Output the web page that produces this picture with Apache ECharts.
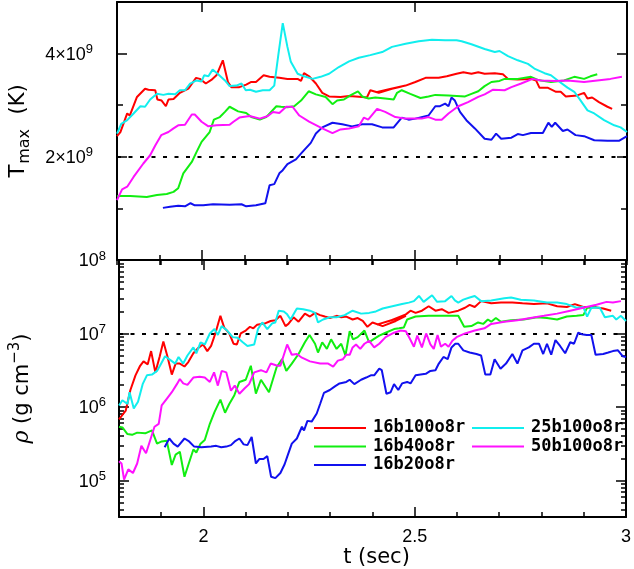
<!DOCTYPE html>
<html>
<head>
<meta charset="utf-8">
<script src="https://cdn.jsdelivr.net/npm/echarts@6/dist/echarts.min.js"></script>
<style>
html,body{margin:0;padding:0;background:#fff;}
#chart{width:634px;height:569px;}
</style>
</head>
<body>
<div id="chart"></div>
<script>
// ---------- DATA ----------
// Top panel: T_max in units of 1e9 K, pairs [t (sec), T]
const T_16b100o8r = [[1.800,2.40],[1.808,2.48],[1.824,2.84],[1.830,2.80],[1.847,3.16],[1.866,3.32],[1.874,3.30],[1.890,3.29],[1.895,3.11],[1.905,3.09],[1.915,2.98],[1.921,3.11],[1.933,3.12],[1.948,3.24],[1.968,3.32],[1.986,3.53],[1.995,3.51],[2.009,3.42],[2.022,3.49],[2.034,3.58],[2.049,3.87],[2.061,3.45],[2.069,3.35],[2.088,3.35],[2.104,3.40],[2.116,3.45],[2.127,3.45],[2.145,3.58],[2.159,3.55],[2.182,3.53],[2.201,3.51],[2.225,3.51],[2.233,3.47],[2.240,3.62],[2.252,3.56],[2.268,3.42],[2.283,3.24],[2.299,3.17],[2.326,3.16],[2.346,3.18],[2.377,3.16],[2.388,3.15],[2.396,3.29],[2.416,3.24],[2.447,3.32],[2.470,3.36],[2.410,3.25],[2.440,3.31],[2.479,3.38],[2.502,3.45],[2.526,3.53],[2.557,3.53],[2.576,3.56],[2.599,3.61],[2.615,3.64],[2.634,3.61],[2.650,3.64],[2.665,3.61],[2.689,3.62],[2.708,3.60],[2.720,3.51],[2.743,3.50],[2.774,3.51],[2.786,3.48],[2.794,3.34],[2.813,3.34],[2.833,3.26],[2.844,3.26],[2.856,3.17],[2.883,3.19],[2.899,3.24],[2.907,3.13],[2.918,3.15],[2.934,3.06],[2.954,2.97],[2.965,2.93]];
const T_16b40o8r = [[1.800,1.24],[1.831,1.24],[1.870,1.22],[1.894,1.26],[1.917,1.28],[1.933,1.32],[1.944,1.39],[1.956,1.68],[1.976,1.90],[1.987,2.09],[1.999,2.29],[2.018,2.48],[2.028,2.72],[2.042,2.77],[2.054,2.87],[2.065,2.97],[2.085,2.88],[2.104,2.85],[2.116,2.77],[2.136,2.72],[2.151,2.77],[2.175,2.98],[2.186,2.97],[2.201,2.96],[2.217,2.98],[2.233,3.09],[2.251,3.27],[2.268,3.21],[2.291,3.16],[2.307,3.02],[2.318,3.09],[2.334,3.11],[2.349,3.19],[2.367,3.27],[2.377,3.17],[2.392,3.13],[2.408,3.15],[2.431,3.13],[2.451,3.11],[2.459,3.24],[2.470,3.29],[2.490,3.22],[2.514,3.14],[2.533,3.17],[2.549,3.20],[2.580,3.19],[2.619,3.17],[2.634,3.22],[2.650,3.27],[2.665,3.37],[2.681,3.45],[2.700,3.47],[2.712,3.51],[2.743,3.51],[2.774,3.55],[2.790,3.49],[2.821,3.45],[2.852,3.48],[2.876,3.55],[2.899,3.51],[2.914,3.56],[2.930,3.60]];
const T_16b20o8r = [[1.908,1.01],[1.925,1.03],[1.944,1.05],[1.960,1.04],[1.973,1.10],[1.983,1.06],[2.003,1.06],[2.026,1.08],[2.065,1.07],[2.093,1.08],[2.104,1.04],[2.127,1.06],[2.149,1.10],[2.159,1.45],[2.170,1.47],[2.182,1.68],[2.190,1.74],[2.201,1.86],[2.221,1.95],[2.236,2.09],[2.256,2.27],[2.268,2.45],[2.283,2.57],[2.307,2.66],[2.330,2.63],[2.353,2.59],[2.377,2.63],[2.400,2.63],[2.424,2.57],[2.451,2.57],[2.470,2.76],[2.486,2.72],[2.502,2.74],[2.533,2.80],[2.549,2.98],[2.560,2.98],[2.572,3.03],[2.580,2.98],[2.587,3.15],[2.595,3.09],[2.607,2.87],[2.622,2.71],[2.642,2.55],[2.665,2.35],[2.681,2.33],[2.692,2.45],[2.704,2.35],[2.728,2.37],[2.743,2.44],[2.755,2.42],[2.774,2.46],[2.802,2.46],[2.815,2.66],[2.823,2.58],[2.831,2.66],[2.849,2.50],[2.860,2.53],[2.879,2.42],[2.899,2.40],[2.923,2.32],[2.954,2.31],[2.981,2.31],[3.000,2.40]];
const T_25b100o8r = [[1.800,2.45],[1.810,2.64],[1.824,2.71],[1.839,2.84],[1.855,2.98],[1.866,2.97],[1.878,3.11],[1.894,3.22],[1.909,3.20],[1.921,3.22],[1.937,3.21],[1.948,3.29],[1.960,3.29],[1.972,3.42],[1.987,3.48],[1.999,3.46],[2.005,3.58],[2.015,3.56],[2.025,3.69],[2.038,3.60],[2.054,3.48],[2.065,3.37],[2.081,3.38],[2.093,3.42],[2.103,3.29],[2.113,3.30],[2.127,3.26],[2.143,3.29],[2.159,3.29],[2.170,3.38],[2.180,4.00],[2.190,4.59],[2.201,4.13],[2.209,3.84],[2.225,3.61],[2.240,3.56],[2.260,3.51],[2.279,3.55],[2.299,3.61],[2.322,3.74],[2.346,3.85],[2.369,3.92],[2.396,3.97],[2.424,4.03],[2.447,4.13],[2.479,4.19],[2.510,4.24],[2.541,4.27],[2.572,4.26],[2.599,4.26],[2.611,4.24],[2.634,4.18],[2.665,4.09],[2.689,4.03],[2.700,4.05],[2.720,3.95],[2.743,3.87],[2.767,3.80],[2.782,3.71],[2.806,3.62],[2.821,3.58],[2.837,3.48],[2.860,3.34],[2.876,3.26],[2.891,3.09],[2.907,2.90],[2.923,2.84],[2.946,2.71],[2.970,2.61],[2.985,2.57],[3.000,2.48]];
const T_50b100o8r = [[1.800,1.16],[1.812,1.37],[1.824,1.42],[1.839,1.61],[1.862,1.87],[1.878,2.03],[1.890,2.22],[1.904,2.42],[1.921,2.48],[1.933,2.55],[1.944,2.61],[1.960,2.62],[1.976,2.82],[1.983,2.82],[1.999,2.68],[2.015,2.59],[2.034,2.61],[2.065,2.62],[2.074,2.68],[2.088,2.76],[2.112,2.79],[2.136,2.74],[2.155,2.79],[2.167,2.87],[2.182,2.85],[2.198,2.97],[2.213,2.97],[2.229,2.80],[2.252,2.68],[2.283,2.55],[2.307,2.46],[2.326,2.53],[2.346,2.55],[2.369,2.59],[2.381,2.76],[2.391,2.72],[2.412,2.93],[2.431,2.87],[2.455,2.77],[2.479,2.74],[2.498,2.74],[2.517,2.74],[2.533,2.77],[2.549,2.72],[2.564,2.72],[2.580,2.84],[2.603,2.98],[2.626,3.06],[2.650,3.16],[2.665,3.21],[2.685,3.30],[2.712,3.29],[2.728,3.35],[2.751,3.42],[2.778,3.51],[2.798,3.48],[2.829,3.47],[2.860,3.48],[2.899,3.45],[2.930,3.48],[2.961,3.51],[2.988,3.55]];

// Bottom panel: log10(rho / g cm^-3), pairs [t (sec), log10 rho]
const logRho_16b100o8r = [[1.800,5.83],[1.808,5.89],[1.816,5.95],[1.827,6.23],[1.839,6.43],[1.850,6.56],[1.858,6.62],[1.868,6.58],[1.876,6.76],[1.886,6.47],[1.896,6.68],[1.905,6.89],[1.915,6.68],[1.925,6.44],[1.934,6.59],[1.944,6.59],[1.955,6.55],[1.964,6.61],[1.976,6.73],[1.987,6.80],[1.999,6.85],[2.009,6.76],[2.018,6.83],[2.028,7.00],[2.040,7.24],[2.049,7.08],[2.061,7.00],[2.071,6.86],[2.079,6.85],[2.088,7.00],[2.100,7.04],[2.110,7.09],[2.118,7.07],[2.127,7.12],[2.147,7.14],[2.159,7.17],[2.170,7.18],[2.182,7.24],[2.194,7.10],[2.201,7.13],[2.213,7.22],[2.225,7.16],[2.240,7.27],[2.252,7.23],[2.264,7.28],[2.276,7.25],[2.287,7.23],[2.299,7.21],[2.315,7.24],[2.326,7.22],[2.338,7.23],[2.353,7.19],[2.365,7.21],[2.377,7.17],[2.388,7.09],[2.400,7.15],[2.424,7.10],[2.455,7.17],[2.479,7.24],[2.410,7.12],[2.445,7.18],[2.479,7.26],[2.490,7.31],[2.502,7.28],[2.517,7.31],[2.533,7.37],[2.549,7.31],[2.564,7.33],[2.580,7.28],[2.603,7.31],[2.619,7.35],[2.630,7.39],[2.642,7.36],[2.657,7.44],[2.681,7.41],[2.704,7.42],[2.731,7.42],[2.755,7.41],[2.782,7.40],[2.813,7.41],[2.837,7.37],[2.860,7.36],[2.879,7.40],[2.899,7.36],[2.923,7.36],[2.946,7.34],[2.965,7.31]];
const logRho_16b40o8r = [[1.800,5.73],[1.808,5.72],[1.820,5.63],[1.831,5.62],[1.843,5.65],[1.862,5.64],[1.878,5.68],[1.890,5.50],[1.901,5.53],[1.913,5.54],[1.925,5.21],[1.934,5.35],[1.944,5.39],[1.955,5.05],[1.964,5.21],[1.976,5.42],[1.983,5.38],[1.993,5.50],[2.003,5.55],[2.015,5.77],[2.026,5.93],[2.040,6.10],[2.051,5.92],[2.061,6.04],[2.073,6.16],[2.085,6.34],[2.100,6.37],[2.112,6.56],[2.124,6.18],[2.136,6.37],[2.155,6.20],[2.173,6.54],[2.186,6.65],[2.196,6.49],[2.209,6.59],[2.225,6.72],[2.240,6.88],[2.251,6.98],[2.264,6.86],[2.271,6.74],[2.281,6.88],[2.292,6.79],[2.302,6.92],[2.315,6.79],[2.326,6.86],[2.336,6.70],[2.346,7.03],[2.354,6.92],[2.365,6.95],[2.381,7.04],[2.392,6.88],[2.402,6.92],[2.416,6.97],[2.431,7.01],[2.451,7.06],[2.463,7.07],[2.474,7.08],[2.482,7.19],[2.502,7.23],[2.533,7.24],[2.564,7.24],[2.603,7.24],[2.617,7.09],[2.634,7.10],[2.650,7.15],[2.662,7.13],[2.673,7.19],[2.681,7.16],[2.692,7.21],[2.704,7.16],[2.728,7.18],[2.758,7.19],[2.790,7.22],[2.813,7.21],[2.837,7.19],[2.860,7.23],[2.883,7.24],[2.899,7.25],[2.908,7.35],[2.918,7.35],[2.930,7.36]];
const logRho_16b20o8r = [[1.908,5.45],[1.919,5.57],[1.929,5.50],[1.939,5.46],[1.955,5.57],[1.966,5.53],[1.978,5.46],[1.995,5.45],[2.018,5.46],[2.030,5.47],[2.042,5.45],[2.054,5.46],[2.065,5.48],[2.074,5.53],[2.085,5.57],[2.095,5.49],[2.104,5.48],[2.114,5.59],[2.124,5.23],[2.132,5.29],[2.142,5.29],[2.151,5.33],[2.160,5.05],[2.170,5.03],[2.182,5.10],[2.192,5.22],[2.198,5.32],[2.209,5.50],[2.221,5.57],[2.233,5.73],[2.238,5.68],[2.246,5.81],[2.256,5.80],[2.268,5.91],[2.276,6.04],[2.285,6.19],[2.299,6.23],[2.311,6.28],[2.322,6.32],[2.338,6.34],[2.346,6.37],[2.357,6.31],[2.373,6.37],[2.385,6.40],[2.396,6.43],[2.404,6.43],[2.416,6.52],[2.422,6.50],[2.433,6.18],[2.443,6.20],[2.451,6.31],[2.461,6.23],[2.470,6.32],[2.482,6.34],[2.490,6.32],[2.502,6.43],[2.526,6.45],[2.537,6.49],[2.549,6.50],[2.557,6.59],[2.568,6.68],[2.578,6.65],[2.587,6.81],[2.596,6.86],[2.603,6.86],[2.615,6.77],[2.630,6.74],[2.646,6.72],[2.657,6.70],[2.667,6.44],[2.679,6.44],[2.689,6.65],[2.703,6.52],[2.716,6.59],[2.731,6.72],[2.743,6.59],[2.755,6.77],[2.770,6.81],[2.782,6.86],[2.794,6.86],[2.804,6.72],[2.813,6.86],[2.823,6.71],[2.833,6.91],[2.844,6.83],[2.856,6.73],[2.868,6.88],[2.877,6.86],[2.887,7.01],[2.895,6.99],[2.907,6.98],[2.918,6.98],[2.928,6.71],[2.946,6.72],[2.958,6.74],[2.969,6.76],[2.981,6.77],[2.992,6.69],[3.000,6.68]];
const logRho_25b100o8r = [[1.800,6.02],[1.808,6.09],[1.820,6.04],[1.825,6.20],[1.835,5.98],[1.845,6.07],[1.856,6.31],[1.866,6.43],[1.878,6.44],[1.890,6.49],[1.897,6.56],[1.909,6.69],[1.921,6.64],[1.933,6.59],[1.941,6.68],[1.952,6.59],[1.962,6.70],[1.976,6.81],[1.983,6.73],[1.993,6.88],[2.003,6.85],[2.015,7.00],[2.026,7.06],[2.034,6.98],[2.043,7.10],[2.056,7.04],[2.069,6.95],[2.081,6.94],[2.093,6.88],[2.104,6.83],[2.120,6.85],[2.129,7.06],[2.139,7.15],[2.151,7.06],[2.163,7.14],[2.170,7.15],[2.178,7.31],[2.190,7.30],[2.198,7.26],[2.206,7.19],[2.221,7.34],[2.236,7.33],[2.252,7.31],[2.264,7.28],[2.271,7.15],[2.283,7.19],[2.299,7.22],[2.315,7.22],[2.334,7.25],[2.353,7.31],[2.373,7.27],[2.392,7.28],[2.408,7.30],[2.424,7.34],[2.447,7.37],[2.470,7.40],[2.486,7.42],[2.498,7.44],[2.510,7.51],[2.521,7.43],[2.541,7.52],[2.553,7.43],[2.572,7.44],[2.587,7.51],[2.595,7.45],[2.603,7.42],[2.615,7.46],[2.630,7.49],[2.642,7.51],[2.657,7.44],[2.681,7.45],[2.712,7.48],[2.728,7.49],[2.751,7.46],[2.782,7.45],[2.813,7.42],[2.837,7.42],[2.860,7.40],[2.883,7.35],[2.899,7.36],[2.908,7.23],[2.918,7.35],[2.938,7.35],[2.950,7.22],[2.969,7.24],[2.977,7.19],[2.988,7.24],[3.000,7.17]];
const logRho_50b100o8r = [[1.800,5.26],[1.806,5.23],[1.812,5.01],[1.822,5.15],[1.833,5.10],[1.843,5.23],[1.853,5.47],[1.864,5.37],[1.874,5.55],[1.884,5.73],[1.894,5.77],[1.901,6.02],[1.913,6.11],[1.925,6.20],[1.937,6.31],[1.944,6.38],[1.952,6.32],[1.962,6.30],[1.976,6.40],[1.991,6.41],[2.003,6.40],[2.015,6.34],[2.025,6.47],[2.034,6.29],[2.043,6.49],[2.054,6.47],[2.065,6.22],[2.074,6.29],[2.085,6.18],[2.097,6.25],[2.108,6.31],[2.120,6.47],[2.136,6.50],[2.149,6.47],[2.159,6.59],[2.175,6.56],[2.182,6.56],[2.198,6.85],[2.209,6.71],[2.221,6.72],[2.233,6.67],[2.252,6.62],[2.276,6.59],[2.295,6.59],[2.307,6.55],[2.318,6.63],[2.330,6.65],[2.338,6.71],[2.346,6.71],[2.353,6.81],[2.361,6.85],[2.371,6.79],[2.381,6.86],[2.392,6.90],[2.404,6.81],[2.416,6.86],[2.431,6.95],[2.451,7.01],[2.467,7.04],[2.479,7.03],[2.490,6.91],[2.498,6.82],[2.506,6.97],[2.517,6.81],[2.527,7.00],[2.537,6.85],[2.545,6.79],[2.554,6.98],[2.562,6.82],[2.572,6.86],[2.580,6.82],[2.589,6.90],[2.599,6.95],[2.619,7.00],[2.642,7.04],[2.665,7.07],[2.681,7.13],[2.712,7.16],[2.743,7.18],[2.774,7.21],[2.806,7.24],[2.837,7.27],[2.868,7.31],[2.899,7.35],[2.930,7.39],[2.954,7.43],[2.969,7.42],[2.988,7.44]];

const runNames = ['16b100o8r','16b40o8r','16b20o8r','25b100o8r','50b100o8r'];
const runColors = ['#ff0000','#11ee11','#1111ee','#11eeee','#ff11ff'];
const tempSeries = [T_16b100o8r, T_16b40o8r, T_16b20o8r, T_25b100o8r, T_50b100o8r];
const rhoSeries = [logRho_16b100o8r, logRho_16b40o8r, logRho_16b20o8r, logRho_25b100o8r, logRho_50b100o8r];

// axes / ticks / reference levels
const tRange = [1.8, 3.0];
const tMajorTicks = [2, 2.5, 3];
const tempRange = [0, 5];          // x 1e9 K
const tempMajorTicks = [2, 4];
const tempRefLevel = 2;            // dotted line, x 1e9 K
const rhoRange = [Math.pow(10, 4.5), 1e8];
const rhoDecades = [1e5, 1e6, 1e7, 1e8];
const rhoRefLevel = 1e7;

// ---------- CHART ----------
const FONT = '"Liberation Sans", Arial, sans-serif';
const TFONT = '"DejaVu Sans", sans-serif';
const BLACK = '#000';
const rhoMinorTicks = [];
[1e4, 1e5, 1e6, 1e7].forEach(d => { for (let k = 2; k <= 9; k++) { const v = k * d; if (v >= rhoRange[0] && v <= rhoRange[1]) rhoMinorTicks.push(v); } });

const richNum = {
  n: { fontSize: 18, fontFamily: FONT, color: BLACK, verticalAlign: 'bottom' },
  s: { fontSize: 13, fontFamily: FONT, color: BLACK, verticalAlign: 'bottom', padding: [0, 0, 8, 0] }
};

function xAxes(gi, showLabels) {
  const base = { gridIndex: gi, type: 'value', min: tRange[0], max: tRange[1], splitLine: { show: false } };
  const major = (pos, label) => Object.assign({}, base, {
    position: pos,
    axisLine: { show: true, onZero: false, lineStyle: { color: BLACK, width: 2 } },
    axisTick: { show: true, inside: true, length: 10, customValues: tMajorTicks, lineStyle: { color: BLACK, width: 1.5 } },
    axisLabel: label ? { show: true, customValues: tMajorTicks, margin: 11, color: BLACK, fontSize: 18, fontFamily: FONT } : { show: false }
  });
  const minor = pos => Object.assign({}, base, {
    position: pos, interval: 0.1,
    axisLine: { show: false },
    axisTick: { show: true, inside: true, length: 5, lineStyle: { color: BLACK, width: 1.5 } },
    axisLabel: { show: false }
  });
  const bottomMajor = major('bottom', showLabels);
  if (showLabels) {
    bottomMajor.name = 't (sec)';
    bottomMajor.nameLocation = 'middle';
    bottomMajor.nameGap = 26;
    bottomMajor.nameTextStyle = { fontSize: 21, fontFamily: TFONT, color: BLACK, verticalAlign: 'top', padding: [0, 0, 0, 8] };
  }
  return [bottomMajor, minor('bottom'), major('top', false), minor('top')];
}

const yAxes = [];
// top grid: linear temperature
(function () {
  const base = { gridIndex: 0, type: 'value', min: tempRange[0], max: tempRange[1], interval: 1, splitLine: { show: false } };
  const tick = (len, vals) => ({ show: true, inside: true, length: len, customValues: vals, lineStyle: { color: BLACK, width: 1.5 } });
  yAxes.push(Object.assign({}, base, {
    position: 'left',
    axisLine: { show: true, onZero: false, lineStyle: { color: BLACK, width: 2 } },
    axisTick: tick(10, tempMajorTicks),
    axisLabel: { show: true, customValues: tempMajorTicks, margin: 24, formatter: v => '{n|' + v + '×10}{s|9}', rich: richNum },
    name: '{n|T}{sub|max}{n|  (K)}', nameLocation: 'middle', nameRotate: 90, nameGap: 84,
    nameTextStyle: { rich: {
      n: { fontSize: 21, fontFamily: TFONT, color: BLACK, verticalAlign: 'top' },
      sub: { fontSize: 16, fontFamily: TFONT, color: BLACK, verticalAlign: 'top', padding: [9, 1, 0, 1] } } }
  }));
  yAxes.push(Object.assign({}, base, { position: 'left', axisLine: { show: false }, axisTick: Object.assign(tick(6), { customValues: undefined }), axisLabel: { show: false } }));
  yAxes.push(Object.assign({}, base, { position: 'right', axisLine: { show: true, onZero: false, lineStyle: { color: BLACK, width: 2 } }, axisTick: tick(10, tempMajorTicks), axisLabel: { show: false } }));
  yAxes.push(Object.assign({}, base, { position: 'right', axisLine: { show: false }, axisTick: Object.assign(tick(6), { customValues: undefined }), axisLabel: { show: false } }));
})();
// bottom grid: log density
(function () {
  const base = { gridIndex: 1, type: 'log', logBase: 10, min: rhoRange[0], max: rhoRange[1], splitLine: { show: false } };
  const tick = (len, vals) => ({ show: true, inside: true, length: len, customValues: vals, lineStyle: { color: BLACK, width: 1.5 } });
  yAxes.push(Object.assign({}, base, {
    position: 'left',
    axisLine: { show: true, onZero: false, lineStyle: { color: BLACK, width: 2 } },
    axisTick: tick(10, rhoDecades),
    axisLabel: { show: true, customValues: rhoDecades, margin: 13, formatter: v => '{n|10}{s|' + Math.round(Math.log10(v)) + '}', rich: richNum },
    name: '{r|ρ}{n| (g cm}{s|−3}{n|)}', nameLocation: 'middle', nameRotate: 90, nameGap: 86,
    nameTextStyle: { rich: {
      r: { fontSize: 22, fontFamily: '"DejaVu Serif", serif', fontStyle: 'italic', color: BLACK, verticalAlign: 'bottom' },
      n: { fontSize: 21, fontFamily: TFONT, color: BLACK, verticalAlign: 'bottom' },
      s: { fontSize: 15, fontFamily: TFONT, color: BLACK, verticalAlign: 'bottom', padding: [0, 0, 10, 0] } } }
  }));
  yAxes.push(Object.assign({}, base, { position: 'left', axisLine: { show: false }, axisTick: tick(5, rhoMinorTicks), axisLabel: { show: false } }));
  yAxes.push(Object.assign({}, base, { position: 'right', axisLine: { show: true, onZero: false, lineStyle: { color: BLACK, width: 2 } }, axisTick: tick(10, rhoDecades), axisLabel: { show: false } }));
  yAxes.push(Object.assign({}, base, { position: 'right', axisLine: { show: false }, axisTick: tick(5, rhoMinorTicks), axisLabel: { show: false } }));
})();

const dotted = { color: BLACK, type: [4, 7.5], width: 2 };
const series = [];
runNames.forEach((name, i) => {
  const s = {
    name, type: 'line', xAxisIndex: 0, yAxisIndex: 0, showSymbol: false, symbol: 'none',
    lineStyle: { color: runColors[i], width: 2 }, itemStyle: { color: runColors[i] },
    data: tempSeries[i], animation: false, silent: true, z: 3
  };
  if (i === 0) s.markLine = { silent: true, symbol: ['none', 'none'], label: { show: false }, lineStyle: dotted, data: [{ yAxis: tempRefLevel }], animation: false, z: 2 };
  series.push(s);
});
runNames.forEach((name, i) => {
  const s = {
    name, type: 'line', xAxisIndex: 4, yAxisIndex: 4, showSymbol: false, symbol: 'none',
    lineStyle: { color: runColors[i], width: 2 }, itemStyle: { color: runColors[i] },
    data: rhoSeries[i].map(p => [p[0], Math.pow(10, p[1])]), animation: false, silent: true, z: 3
  };
  if (i === 0) s.markLine = { silent: true, symbol: ['none', 'none'], label: { show: false }, lineStyle: dotted, data: [{ yAxis: rhoRefLevel }], animation: false, z: 2 };
  series.push(s);
});

const legendBase = {
  orient: 'vertical', top: 419, padding: 0, itemGap: 0.5, itemWidth: 52, itemHeight: 2, icon: 'rect',
  selectedMode: false,
  textStyle: { fontSize: 17, fontWeight: 'bold', fontFamily: '"DejaVu Sans Mono", monospace', color: BLACK, lineHeight: 18, padding: [0, 0, 0, 2] }
};

const option = {
  backgroundColor: '#fff',
  animation: false,
  grid: [
    { left: 113, top: 2, width: 514, height: 258, containLabel: false },
    { left: 113, top: 260, width: 514, height: 258, containLabel: false }
  ],
  xAxis: [].concat(xAxes(0, false), xAxes(1, true)),
  yAxis: yAxes,
  legend: [
    Object.assign({}, legendBase, { left: 314, data: ['16b100o8r', '16b40o8r', '16b20o8r'] }),
    Object.assign({}, legendBase, { left: 472, data: ['25b100o8r', '50b100o8r'] })
  ],
  series
};

const chart = echarts.init(document.getElementById('chart'), null, { renderer: 'canvas' });
chart.setOption(option);
</script>
</body>
</html>
